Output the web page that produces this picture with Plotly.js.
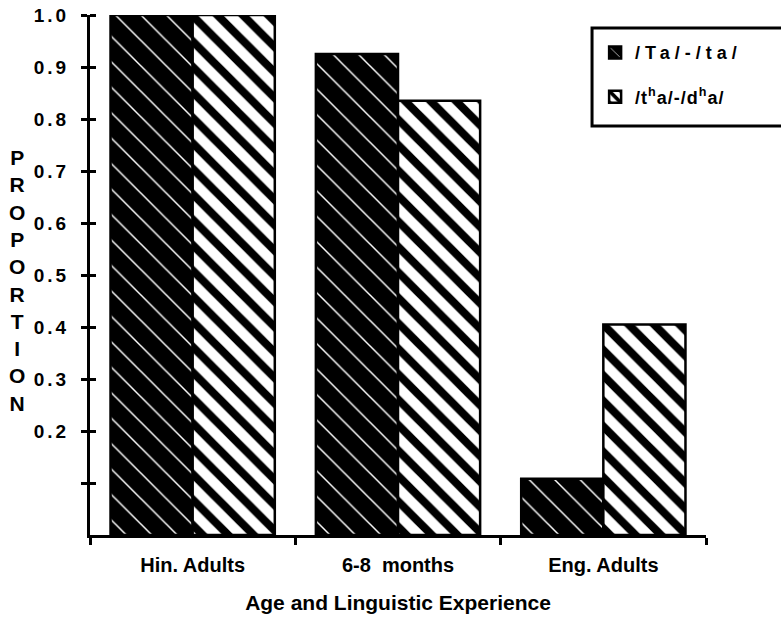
<!DOCTYPE html>
<html>
<head>
<meta charset="utf-8">
<script src="https://cdn.plot.ly/plotly-3.0.1.min.js"></script>
<style>html,body{margin:0;padding:0;background:#fff;}</style>
</head>
<body>
<div id="chart" style="width:781px;height:617px;"></div>
<script>
const categories = ['Hin. Adults', '6-8\u00a0 months', 'Eng. Adults'];
const taTaValues = [1.0, 0.925, 0.108];
const thaDhaValues = [1.0, 0.835, 0.405];
const seriesNames = ['/Ta/-/ta/', '/t<sup>h</sup>a/-/d<sup>h</sup>a/'];
const yTickVals = [0.1, 0.2, 0.3, 0.4, 0.5, 0.6, 0.7, 0.8, 0.9, 1.0];
const yTickText = ['', '0.2', '0.3', '0.4', '0.5', '0.6', '0.7', '0.8', '0.9', '1.0'];
const xTitle = 'Age and Linguistic Experience';
const yTitleLetters = ['P','R','O','P','O','R','T','I','O','N'];

const FONT = 'Liberation Sans, Arial, Helvetica, sans-serif';
const spaced = (s, px) => '<span style="letter-spacing:' + px + 'px">' + s + '</span>';

const traces = [
  {
    type: 'bar', x: categories, y: taTaValues, name: spaced(seriesNames[0], 5),
    legendgroup: 'a', cliponaxis: false,
    marker: {
      color: '#000',
      line: {color: '#000', width: 2.5},
      pattern: {shape: '\\', bgcolor: '#000', fgcolor: '#fff', fgopacity: 1, size: 18, solidity: 0.08, fillmode: 'replace'}
    }
  },
  {
    type: 'bar', x: categories, y: thaDhaValues, name: spaced(seriesNames[1], 1),
    legendgroup: 'b', cliponaxis: false,
    marker: {
      color: '#fff',
      line: {color: '#000', width: 2.5},
      pattern: {shape: '\\', bgcolor: '#fff', fgcolor: '#000', fgopacity: 1, size: 18, solidity: 0.45, fillmode: 'replace'}
    }
  }
];

const layout = {
  width: 781, height: 617,
  margin: {l: 90, r: 75, t: 15, b: 82},
  paper_bgcolor: '#fff', plot_bgcolor: '#fff',
  font: {family: FONT, color: '#000'},
  barmode: 'group', bargap: 0.2, bargroupgap: 0,
  showlegend: true,
  legend: {
    x: 0.82, y: 0.963, xanchor: 'left', yanchor: 'top',
    borderwidth: 0, bgcolor: 'rgba(0,0,0,0)',
    font: {family: FONT, size: 18, color: '#000', weight: 700},
    tracegroupgap: 18, valign: 'middle'
  },
  shapes: [{
    type: 'rect', xref: 'paper', yref: 'paper', layer: 'above',
    x0: 0.815, x1: 1.2, y0: 0.7865, y1: 0.975,
    line: {color: '#000', width: 3}, fillcolor: '#fff'
  }],
  xaxis: {
    type: 'category', range: [-0.5, 2.5],
    showline: true, linewidth: 3, linecolor: '#000',
    ticks: 'outside', tickson: 'boundaries', ticklen: 7, tickwidth: 3, tickcolor: '#000',
    ticklabelstandoff: 10,
    tickfont: {family: FONT, size: 20, weight: 700},
    showgrid: false, zeroline: false, fixedrange: true,
    title: {text: xTitle, font: {family: FONT, size: 21, weight: 700}, standoff: 21}
  },
  yaxis: {
    range: [0, 1.0],
    showline: true, linewidth: 3, linecolor: '#000',
    tickmode: 'array', tickvals: yTickVals, ticktext: yTickText.map(t => t ? spaced(t, 3) : t),
    ticks: 'outside', ticklen: 6, tickwidth: 3, tickcolor: '#000',
    ticklabelstandoff: 8,
    tickfont: {family: FONT, size: 19, weight: 700},
    minor: {
      tickmode: 'array', tickvals: yTickVals.map(v => v + 1e-6),
      ticks: 'inside', ticklen: 6, tickwidth: 3, tickcolor: '#000', showgrid: false
    },
    showgrid: false, zeroline: false, fixedrange: true
  },
  annotations: [{
    xref: 'paper', yref: 'paper', x: 0, xshift: -73, y: 0.49, xanchor: 'center', yanchor: 'middle',
    text: yTitleLetters.join('<br>'), showarrow: false, align: 'center',
    font: {family: FONT, size: 21, weight: 700, color: '#000'}
  }]
};

Plotly.newPlot('chart', traces, layout, {displayModeBar: false, staticPlot: true});
</script>
</body>
</html>
